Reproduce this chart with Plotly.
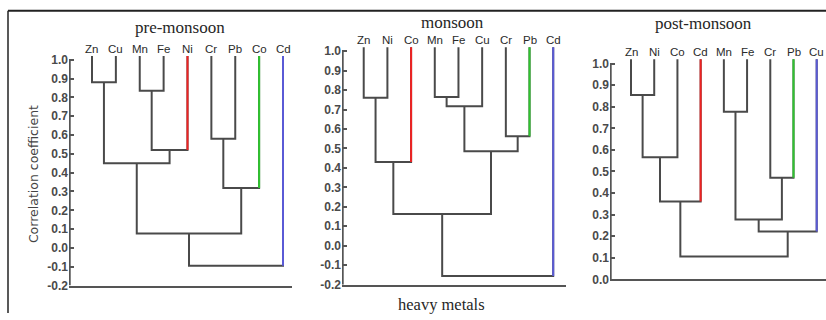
import plotly.graph_objects as go

# ---------------- data ----------------
panel_titles = ["pre-monsoon", "monsoon", "post-monsoon"]
x_title = "heavy metals"
y_title = "Correlation coefficient"

pre_leaves = ["Zn", "Cu", "Mn", "Fe", "Ni", "Cr", "Pb", "Co", "Cd"]
pre_left = ["Zn", "Mn", "m1", "m0", "Cr", "m4", "m3", "m6"]
pre_right = ["Cu", "Fe", "Ni", "m2", "Pb", "Co", "m5", "Cd"]
pre_height = [0.88, 0.835, 0.52, 0.45, 0.58, 0.318, 0.077, -0.095]
pre_colored = ["Ni", "Co", "Cd"]

mon_leaves = ["Zn", "Ni", "Co", "Mn", "Fe", "Cu", "Cr", "Pb", "Cd"]
mon_left = ["Zn", "m0", "Mn", "m2", "Cr", "m3", "m1", "m6"]
mon_right = ["Ni", "Co", "Fe", "Cu", "Pb", "m4", "m5", "Cd"]
mon_height = [0.76, 0.43, 0.765, 0.717, 0.563, 0.485, 0.163, -0.155]
mon_colored = ["Co", "Pb", "Cd"]

post_leaves = ["Zn", "Ni", "Co", "Cd", "Mn", "Fe", "Cr", "Pb", "Cu"]
post_left = ["Zn", "m0", "m1", "Mn", "Cr", "m3", "m5", "m2"]
post_right = ["Ni", "Co", "Cd", "Fe", "Pb", "m4", "Cu", "m6"]
post_height = [0.854, 0.566, 0.361, 0.777, 0.471, 0.278, 0.222, 0.106]
post_colored = ["Cd", "Pb", "Cu"]

pre_yticks = [-0.2, -0.1, 0.0, 0.1, 0.2, 0.3, 0.4, 0.5, 0.6, 0.7, 0.8, 0.9, 1.0]
mon_yticks = [-0.2, -0.1, 0.0, 0.1, 0.2, 0.3, 0.4, 0.5, 0.6, 0.7, 0.8, 0.9, 1.0]
post_yticks = [0.0, 0.1, 0.2, 0.3, 0.4, 0.5, 0.6, 0.7, 0.8, 0.9, 1.0]

# ---------------- styling / layout ----------------
LEAF_TOP = 1.02
LINE_COLOR = "#4a4a4a"
AXIS_COLOR = "#555555"
HIGHLIGHT = ["#ee2222", "#2ec42e", "#5a5ad6"]
W, H = 826, 320

panels = [
    dict(leaves=pre_leaves, left=pre_left, right=pre_right, height=pre_height,
         colored=pre_colored, yticks=pre_yticks,
         px_x=(69, 292), px_y=(292, 52), xr=(0.037, 9.377), yr=(-0.2, 1.0468),
         title_xy=(180, 28)),
    dict(leaves=mon_leaves, left=mon_left, right=mon_right, height=mon_height,
         colored=mon_colored, yticks=mon_yticks,
         px_x=(342, 566), px_y=(291, 43), xr=(0.083, 9.54), yr=(-0.2, 1.0468),
         title_xy=(453, 23)),
    dict(leaves=post_leaves, left=post_left, right=post_right, height=post_height,
         colored=post_colored, yticks=post_yticks,
         px_x=(610, 826), px_y=(285.7, 55), xr=(0.095, 9.40), yr=(0.0, 1.045),
         title_xy=(703, 24)),
]


def build(leaves, left, right, height):
    xpos = {n: i + 1 for i, n in enumerate(leaves)}
    ypos = {n: LEAF_TOP for n in leaves}
    merge_h = {}
    xs, ys = [], []
    for k, (a, b, h) in enumerate(zip(left, right, height)):
        xa, ya, xb, yb = xpos[a], ypos[a], xpos[b], ypos[b]
        xs += [xa, xa, xb, xb, None]
        ys += [ya, h, h, yb, None]
        merge_h.setdefault(a, h)
        merge_h.setdefault(b, h)
        xpos[f"m{k}"] = (xa + xb) / 2
        ypos[f"m{k}"] = h
    return xs, ys, xpos, merge_h


fig = go.Figure()
annotations = []
layout_axes = {}

for i, p in enumerate(panels, start=1):
    xa = "x" if i == 1 else f"x{i}"
    ya = "y" if i == 1 else f"y{i}"
    xs, ys, xpos, merge_h = build(p["leaves"], p["left"], p["right"], p["height"])

    fig.add_trace(go.Scatter(x=xs, y=ys, mode="lines", xaxis=xa, yaxis=ya,
                             line=dict(color=LINE_COLOR, width=2),
                             hoverinfo="skip", showlegend=False))
    for c, leaf in zip(HIGHLIGHT, p["colored"]):
        fig.add_trace(go.Scatter(x=[xpos[leaf], xpos[leaf]],
                                 y=[LEAF_TOP, merge_h[leaf]], mode="lines",
                                 xaxis=xa, yaxis=ya,
                                 line=dict(color=c, width=2),
                                 hoverinfo="skip", showlegend=False))
    # y axis line (from lowest tick to 1.0)
    x0 = p["xr"][0] + 0.03
    fig.add_trace(go.Scatter(x=[x0, x0], y=[p["yticks"][0], p["yticks"][-1]],
                             mode="lines", xaxis=xa, yaxis=ya,
                             line=dict(color=AXIS_COLOR, width=2),
                             hoverinfo="skip", showlegend=False))

    for leaf in p["leaves"]:
        annotations.append(dict(x=xpos[leaf], y=LEAF_TOP, xref=xa, yref=ya,
                                text=leaf, showarrow=False, yanchor="bottom",
                                yshift=-1,
                                font=dict(family="Liberation Sans, Arial", size=11.5,
                                          color="#2a2a2a")))

    tx, ty = p["title_xy"]
    annotations.append(dict(x=tx / W, y=1 - ty / H, xref="paper", yref="paper",
                            text=panel_titles[i - 1], showarrow=False,
                            xanchor="center", yanchor="middle",
                            font=dict(family="Liberation Serif, Times New Roman",
                                      size=17, color="#262626")))

    key = "" if i == 1 else str(i)
    layout_axes[f"xaxis{key}"] = dict(
        domain=[p["px_x"][0] / W, min(p["px_x"][1] / W, 1.0)], range=list(p["xr"]),
        anchor=ya, showgrid=False, zeroline=False, showticklabels=False,
        ticks="", showline=True, linecolor=AXIS_COLOR, linewidth=2)
    layout_axes[f"yaxis{key}"] = dict(
        domain=[1 - p["px_y"][0] / H, 1 - p["px_y"][1] / H], range=list(p["yr"]),
        anchor=xa, showgrid=False, zeroline=False, showline=False,
        ticks="inside", ticklen=5, tickwidth=1.5, tickcolor=AXIS_COLOR,
        tickvals=p["yticks"], ticktext=[f"{v:.1f}" for v in p["yticks"]],
        tickfont=dict(family="Liberation Sans, Arial", size=12, color="#4a4a4a",
                      weight="bold"))

annotations.append(dict(x=441 / W, y=1 - 311 / H, xref="paper", yref="paper",
                        text=x_title, showarrow=False, xanchor="center",
                        yanchor="middle",
                        font=dict(family="Liberation Serif, Times New Roman",
                                  size=16.5, color="#262626")))
annotations.append(dict(x=33 / W, y=1 - 178 / H, xref="paper", yref="paper",
                        text=y_title, showarrow=False, textangle=-90,
                        xanchor="center", yanchor="middle",
                        font=dict(family="DejaVu Sans", size=12.5, color="#444444")))

shapes = [
    dict(type="line", xref="paper", yref="paper", x0=8 / W, x1=1.0,
         y0=1 - 11 / H, y1=1 - 11 / H, line=dict(color="#222222", width=2)),
    dict(type="line", xref="paper", yref="paper", x0=8 / W, x1=8 / W,
         y0=1 - 11 / H, y1=0, line=dict(color="#222222", width=1.5)),
]

fig.update_layout(width=W, height=H, margin=dict(l=0, r=0, t=0, b=0),
                  paper_bgcolor="white", plot_bgcolor="white",
                  showlegend=False, annotations=annotations, shapes=shapes,
                  **layout_axes)

fig.write_html("out.html", config={"displayModeBar": False},
               post_script="document.body.style.margin='0';"
                           "document.body.style.overflow='hidden';")
